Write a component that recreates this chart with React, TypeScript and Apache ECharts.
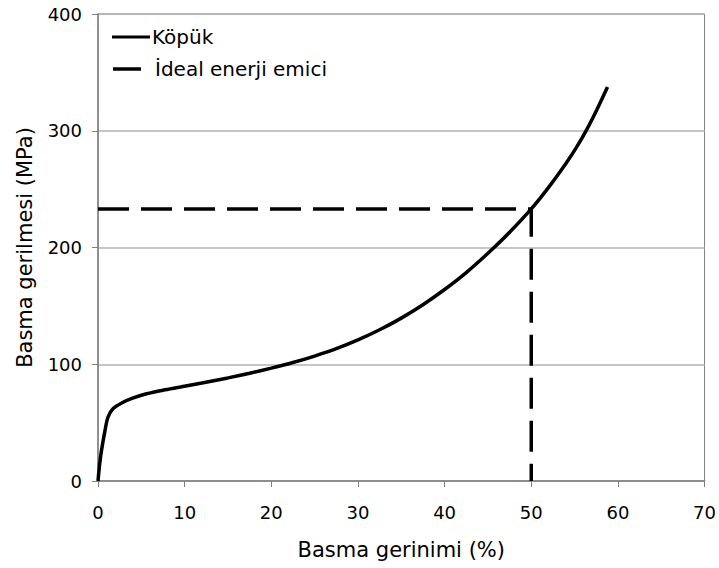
import React, { useEffect, useRef } from "react";
import * as echarts from "echarts";

const strain = [0, 0.2, 0.4, 0.8, 1.15, 1.75, 2.9, 4, 5.6, 7.5, 9.5, 12, 15, 17.5, 20, 22.5, 25, 27.5, 30, 32.5, 35, 37.5, 40, 42.5, 45, 47.5, 50, 52, 54, 55.2, 56.4, 57.6, 58.8];
const stress = [0, 15, 26, 43, 54.6, 62, 67.5, 71, 74.7, 77.8, 80.5, 84, 88.3, 92.3, 96.7, 101.5, 107, 113.3, 120.8, 129.5, 139.5, 151, 164, 178.5, 195, 213, 233, 251.5, 272, 285.5, 301, 318.5, 337.5];
const idealX = [0, 50, 50];
const idealY = [233, 233, 0];
const seriesNames = ["Köpük", "İdeal enerji emici"];
const xTitle = "Basma gerinimi (%)";
const yTitle = "Basma gerilmesi (MPa)";

const FONT = "DejaVu Sans, Liberation Sans, Arial, sans-serif";

export default function App() {
  const ref = useRef<HTMLDivElement>(null);
  useEffect(() => {
    if (!ref.current) return;
    const chart = echarts.init(ref.current, null, { renderer: "svg" });
    chart.setOption({
      animation: false,
      backgroundColor: "#ffffff",
      textStyle: { fontFamily: FONT },
      grid: { left: 98, top: 14, right: 14, bottom: 87, show: true, borderColor: "#808080", borderWidth: 1 },
      xAxis: {
        type: "value",
        min: 0,
        max: 70,
        interval: 10,
        name: xTitle,
        nameLocation: "middle",
        nameGap: 58,
        nameTextStyle: { fontSize: 21, color: "#000", fontFamily: FONT },
        axisLine: { lineStyle: { color: "#808080", width: 1.5 } },
        axisTick: { show: true, inside: false, length: 6, lineStyle: { color: "#808080" } },
        axisLabel: { fontSize: 18, color: "#000", margin: 22, fontFamily: FONT },
        splitLine: { show: false },
      },
      yAxis: {
        type: "value",
        min: 0,
        max: 400,
        interval: 100,
        name: yTitle,
        nameLocation: "middle",
        nameGap: 63,
        nameTextStyle: { fontSize: 21, color: "#000", fontFamily: FONT },
        axisLine: { show: true, lineStyle: { color: "#808080", width: 1.5 } },
        axisTick: { show: true, inside: false, length: 6, lineStyle: { color: "#808080" } },
        axisLabel: { fontSize: 18, color: "#000", margin: 16, fontFamily: FONT },
        splitLine: { show: true, lineStyle: { color: "#b3b3b3", width: 1.5 } },
      },
      series: [
        {
          name: seriesNames[0],
          type: "line",
          data: strain.map((x, i) => [x, stress[i]]),
          showSymbol: false,
          smooth: 0.3,
          lineStyle: { color: "#000", width: 3.5 },
          z: 3,
        },
        {
          name: seriesNames[1],
          type: "line",
          data: idealX.map((x, i) => [x, idealY[i]]),
          showSymbol: false,
          lineStyle: { color: "#000", width: 3.5, type: [31, 12] },
          z: 2,
        },
      ],
      graphic: [
        { type: "line", shape: { x1: 112, y1: 37, x2: 150, y2: 37 }, style: { stroke: "#000", lineWidth: 3 } },
        { type: "text", x: 152, y: 37, style: { text: seriesNames[0], fontSize: 20, fontFamily: FONT, fill: "#000", verticalAlign: "middle" } },
        { type: "line", shape: { x1: 113, y1: 69, x2: 141, y2: 69 }, style: { stroke: "#000", lineWidth: 3.5 } },
        { type: "text", x: 155, y: 69, style: { text: seriesNames[1], fontSize: 20, fontFamily: FONT, fill: "#000", verticalAlign: "middle" } },
      ],
    });
    return () => chart.dispose();
  }, []);
  return <div ref={ref} style={{ position: "fixed", left: 0, top: 0, width: 719, height: 568 }} />;
}
